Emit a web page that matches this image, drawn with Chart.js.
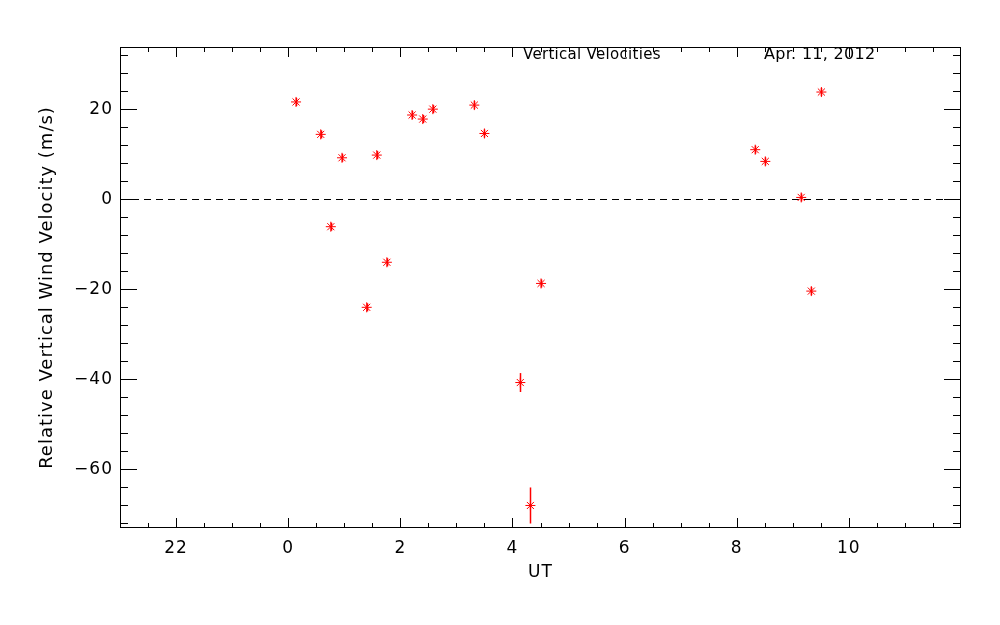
<!DOCTYPE html>
<html>
<head>
<meta charset="utf-8">
<script src="https://cdn.jsdelivr.net/npm/chart.js@4"></script>
<style>
    html, body { margin: 0; padding: 0; background: #fff; }
    canvas { display: block; }
</style>
</head>
<body>
<canvas id="velChart" width="1000" height="625"></canvas>
<script>
// UT hours (negative = previous day), vertical wind in m/s, 1-sigma error
const ut = [0.14, 0.58, 0.76, 0.96, 1.40, 1.58, 1.76, 2.21, 2.40, 2.58, 3.32, 3.50, 4.14, 4.32, 4.51, 8.33, 8.51, 9.15, 9.33, 9.51];
const velocity = [21.6, 14.4, -6.1, 9.2, -24.0, 9.8, -14.0, 18.7, 17.8, 20.0, 20.9, 14.6, -40.7, -68.0, -18.7, 11.0, 8.4, 0.4, -20.4, 23.8];
const velErr = [0.9, 0.9, 0.9, 0.9, 0.9, 0.9, 0.9, 0.9, 0.9, 0.9, 0.9, 0.9, 2.1, 4.0, 0.9, 0.9, 0.9, 0.9, 0.9, 0.9];

const xTickValues = [-2, 0, 2, 4, 6, 8, 10];
const yTickValues = [-60, -40, -20, 0, 20];
const titleText = "Vertical Velocities";
const dateText = "Apr. 11, 2012";
const refValue = 0;

const fontFamily = "'DejaVu Sans', sans-serif";
const points = ut.map((t, i) => ({ x: t, y: velocity[i] }));

// box with inward IDL-style ticks, dashed zero line, error bars, top labels
const framePlugin = {
    id: "frame",
    beforeDraw(chart) {
        // the original font is wide and loosely spaced
        chart.ctx.letterSpacing = "1px";
    },
    beforeDatasetsDraw(chart) {
        const { ctx, chartArea: a, scales: { y } } = chart;
        const y0 = Math.round(y.getPixelForValue(refValue)) + 0.5;
        ctx.save();
        ctx.strokeStyle = "#000";
        ctx.lineWidth = 1;
        ctx.setLineDash([7, 5]);
        ctx.beginPath();
        ctx.moveTo(a.left, y0);
        ctx.lineTo(a.right, y0);
        ctx.stroke();
        ctx.restore();
    },
    afterDatasetsDraw(chart) {
        const { ctx, chartArea: a, scales: { x, y } } = chart;
        ctx.save();

        // error bars
        ctx.strokeStyle = "#ff0000";
        ctx.lineWidth = 1.5;
        ut.forEach((t, i) => {
            const px = Math.round(x.getPixelForValue(t)) + 0.5;
            ctx.beginPath();
            ctx.moveTo(px, y.getPixelForValue(velocity[i] - velErr[i]));
            ctx.lineTo(px, y.getPixelForValue(velocity[i] + velErr[i]));
            ctx.stroke();
        });

        ctx.strokeStyle = "#000";
        ctx.lineWidth = 1;
        ctx.strokeRect(a.left + 0.5, a.top + 0.5, a.width - 1, a.height - 1);

        ctx.beginPath();
        for (let v = x.min + 0.5; v < x.max; v += 0.5) {
            const len = xTickValues.includes(v) ? 10 : 5;
            const px = Math.round(x.getPixelForValue(v)) + 0.5;
            ctx.moveTo(px, a.bottom);
            ctx.lineTo(px, a.bottom - len);
            ctx.moveTo(px, a.top);
            ctx.lineTo(px, a.top + len);
        }
        for (let v = -72; v < y.max; v += 4) {
            const len = yTickValues.includes(v) ? 17 : 8;
            const py = Math.round(y.getPixelForValue(v)) + 0.5;
            ctx.moveTo(a.left, py);
            ctx.lineTo(a.left + len, py);
            ctx.moveTo(a.right, py);
            ctx.lineTo(a.right - len, py);
        }
        ctx.stroke();

        ctx.fillStyle = "#000";
        ctx.letterSpacing = "0.3px";
        ctx.textBaseline = "alphabetic";
        ctx.font = "15px " + fontFamily;
        ctx.fillText(titleText, 523, 59);
        ctx.font = "16px " + fontFamily;
        ctx.fillText(dateText, 764, 59);
        ctx.restore();
    },
};

const ctx = document.getElementById("velChart").getContext("2d");
const velChart = new Chart(ctx, {
    type: "scatter",
    data: {
        datasets: [
            {
                data: points,
                pointStyle: "star",
                pointRadius: 5,
                pointBorderWidth: 1,
                borderColor: "#ff0000",
                backgroundColor: "#ff0000",
            },
        ],
    },
    options: {
        responsive: false,
        devicePixelRatio: 1,
        animation: false,
        layout: {
            padding: { top: 47, right: 39, left: 0, bottom: 0 },
        },
        plugins: {
            legend: { display: false },
            tooltip: { enabled: false },
        },
        scales: {
            x: {
                type: "linear",
                min: -3,
                max: 12,
                afterBuildTicks: (scale) => {
                    scale.ticks = xTickValues.map((v) => ({ value: v }));
                },
                afterFit: (scale) => {
                    scale.height = 97;
                },
                grid: { display: false, drawTicks: false },
                border: { display: false },
                ticks: {
                    padding: 10,
                    color: "#000",
                    font: { family: fontFamily, size: 17 },
                    maxRotation: 0,
                    callback: (v) => (v < 0 ? v + 24 : v),
                },
                title: {
                    display: true,
                    text: "UT",
                    color: "#000",
                    font: { family: fontFamily, size: 17 },
                    padding: { top: 0, bottom: 42 },
                },
            },
            y: {
                min: -73,
                max: 33.8,
                afterBuildTicks: (scale) => {
                    scale.ticks = yTickValues.map((v) => ({ value: v }));
                },
                afterFit: (scale) => {
                    scale.width = 120;
                },
                grid: { display: false, drawTicks: false },
                border: { display: false },
                ticks: {
                    padding: 7,
                    color: "#000",
                    font: { family: fontFamily, size: 17 },
                    callback: (v) => (v < 0 ? "\u2212" + Math.abs(v) : v),
                },
                title: {
                    display: true,
                    text: "Relative Vertical Wind Velocity (m/s)",
                    color: "#000",
                    font: { family: fontFamily, size: 18 },
                    padding: { top: 37, bottom: 0 },
                },
            },
        },
    },
    plugins: [framePlugin],
});
</script>
</body>
</html>
